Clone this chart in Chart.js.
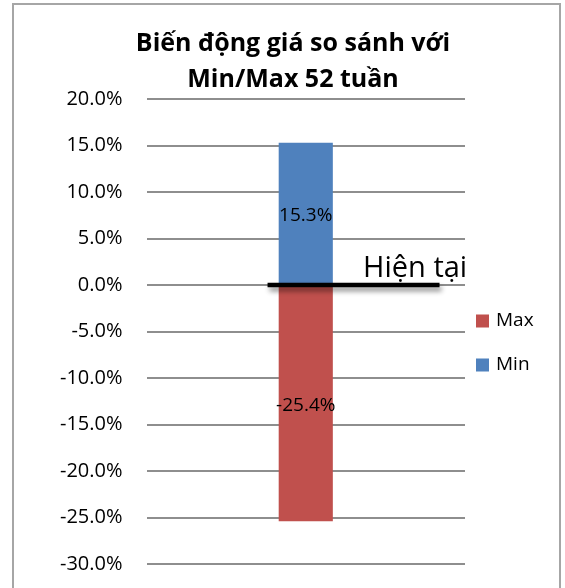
<html>
<head>
<meta charset="utf-8">
<style>
    body { margin: 0; background: #fff; overflow: hidden; }
    .frame { position: absolute; left: 12px; top: 3px; width: 545px; height: 640px; border: 2px solid #a6a6a6; }
</style>
</head>
<body>
<div class="frame">
    <canvas id="barChart" width="545" height="583"></canvas>
</div>
<script src="https://cdn.jsdelivr.net/npm/chart.js"></script>

<script>
    const categories = ['Giá'];
    const seriesNames = ['Max', 'Min'];
    const maxValues = [-25.4];
    const minValues = [15.3];
    const seriesColors = ['#C0504D', '#4F81BD'];
    const yMin = -30, yMax = 20, yStep = 5;
    const titleLines = ['Biến động giá so sánh với', 'Min/Max 52 tuần'];
    const markerText = 'Hiện tại';
    const markerValue = 0;
    const markerSpan = [-0.12, 0.42];   // along the category axis
    const markerTextAt = [0.18, 0.9];   // x on category axis, y value

    Chart.defaults.font.family = '"Open Sans", sans-serif';
    Chart.defaults.color = '#000';

    // numbers in the middle of each bar
    const valueLabels = {
        id: 'valueLabels',
        afterDatasetsDraw(chart) {
            const ctx = chart.ctx;
            ctx.save();
            ctx.font = '19px "Open Sans"';
            ctx.fillStyle = '#000';
            ctx.textAlign = 'center';
            ctx.textBaseline = 'middle';
            chart.data.datasets.forEach((ds, i) => {
                chart.getDatasetMeta(i).data.forEach((bar, j) => {
                    ctx.fillText(ds.data[j].toFixed(1) + '%', bar.x, (bar.y + bar.base) / 2 + 2);
                });
            });
            ctx.restore();
        }
    };

    // the black "Hiện tại" line with its shadow
    const currentMarker = {
        id: 'currentMarker',
        afterDatasetsDraw(chart) {
            const ctx = chart.ctx;
            const xs = chart.scales.x, ys = chart.scales.y;
            const y0 = ys.getPixelForValue(markerValue);
            ctx.save();
            ctx.shadowColor = 'rgba(0,0,0,0.45)';
            ctx.shadowBlur = 5;
            ctx.shadowOffsetX = 2;
            ctx.shadowOffsetY = 4;
            ctx.strokeStyle = '#000';
            ctx.lineWidth = 4.5;
            ctx.beginPath();
            ctx.moveTo(xs.getPixelForValue(markerSpan[0]), y0);
            ctx.lineTo(xs.getPixelForValue(markerSpan[1]), y0);
            ctx.stroke();
            ctx.restore();

            ctx.save();
            ctx.font = '29px "Open Sans"';
            ctx.fillStyle = '#000';
            ctx.textAlign = 'left';
            ctx.textBaseline = 'alphabetic';
            ctx.fillText(markerText, xs.getPixelForValue(markerTextAt[0]), ys.getPixelForValue(markerTextAt[1]));
            ctx.restore();
        }
    };

    // legend at the right side
    const sideLegend = {
        id: 'sideLegend',
        afterDraw(chart) {
            const ctx = chart.ctx;
            const area = chart.chartArea;
            const mid = (area.top + area.bottom) / 2 + 11;
            ctx.save();
            ctx.font = '19px "Open Sans"';
            ctx.textBaseline = 'middle';
            chart.data.datasets.forEach((ds, i) => {
                const cy = mid + (i - 0.5) * 44;
                ctx.fillStyle = ds.backgroundColor;
                ctx.fillRect(area.right + 11, cy - 6, 13, 13);
                ctx.fillStyle = '#000';
                ctx.fillText(ds.label, area.right + 31, cy);
            });
            ctx.restore();
        }
    };

    const data = {
        labels: categories,
        datasets: [{
            label: seriesNames[0],
            data: maxValues,
            backgroundColor: seriesColors[0],
            barPercentage: 0.17,
            categoryPercentage: 1
        }, {
            label: seriesNames[1],
            data: minValues,
            backgroundColor: seriesColors[1],
            barPercentage: 0.17,
            categoryPercentage: 1
        }]
    };

    const config = {
        type: 'bar',
        data: data,
        options: {
            responsive: false,
            animation: false,
            layout: {padding: {left: 46, right: 33, top: 0, bottom: 24}},
            plugins: {
                legend: {display: false},
                tooltip: {enabled: false},
                title: {
                    display: true,
                    text: titleLines,
                    color: '#000',
                    font: {size: 25, weight: 'bold', lineHeight: 1.44},
                    padding: {top: 21, bottom: 1}
                }
            },
            scales: {
                x: {
                    display: false,
                    stacked: true
                },
                y: {
                    stacked: true,
                    min: yMin,
                    max: yMax,
                    border: {display: false},
                    grid: {color: '#8e8e8e', lineWidth: 2, drawTicks: true, tickLength: 24, tickColor: 'rgba(0,0,0,0)'},
                    ticks: {
                        stepSize: yStep,
                        padding: 0,
                        color: '#000',
                        font: {size: 20},
                        callback: v => v.toFixed(1) + '%'
                    }
                },
                // empty room on the right for the legend
                legendRoom: {
                    position: 'right',
                    grid: {display: false},
                    border: {display: false},
                    ticks: {display: false},
                    afterFit: axis => { axis.width = 61; }
                }
            }
        },
        plugins: [valueLabels, currentMarker, sideLegend]
    };

    const barChart = new Chart(document.getElementById('barChart').getContext('2d'), config);
</script>
</body>
</html>
